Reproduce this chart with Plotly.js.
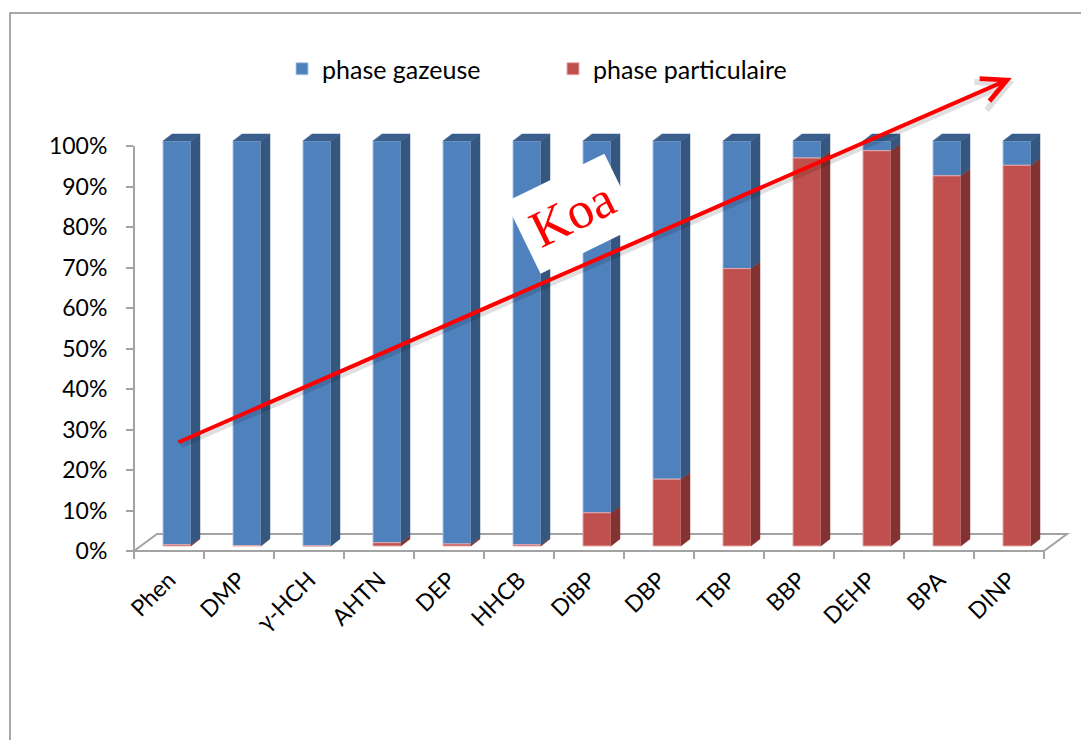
<!DOCTYPE html>
<html>
<head>
<meta charset="utf-8">
<script src="https://cdn.plot.ly/plotly-3.0.1.min.js"></script>
<style>html,body{margin:0;padding:0;background:#fff;}</style>
</head>
<body>
<div id="chart" style="width:1081px;height:740px;"></div>
<script>
// ---- data (percent) ----
const categories = ['Phen', 'DMP', 'γ-HCH', 'AHTN', 'DEP', 'HHCB', 'DiBP', 'DBP', 'TBP', 'BBP', 'DEHP', 'BPA', 'DINP'];
const particulaire = [0.3, 0.1, 0.0, 0.8, 0.5, 0.3, 8.2, 16.5, 68.5, 95.8, 97.6, 91.4, 94.0];
const gazeuse      = [99.7, 99.9, 100.0, 99.2, 99.5, 99.7, 91.8, 83.5, 31.5, 4.2, 2.4, 8.6, 6.0];
const seriesNames = ['phase gazeuse', 'phase particulaire'];
const yTickVals = [0, 10, 20, 30, 40, 50, 60, 70, 80, 90, 100];
const yTickText = ['0%', '10%', '20%', '30%', '40%', '50%', '60%', '70%', '80%', '90%', '100%'];
const annotationText = 'Koa';

// ---- geometry / style ----
const W = 1081, H = 740, L = 134, R = 11, T = 100, B = 189;
const plotW = W - L - R, plotH = H - T - B;
const pxPerX = 70, pxPerY = 4.05;
const xMin = -0.5, xMax = xMin + plotW / pxPerX;
const yMin = 0, yMax = yMin + plotH / pxPerY;
const barW = 0.4, barShift = 0.114;
const depthX = 9 / pxPerX, depthY = 7 / pxPerY, baseOff = 5 / pxPerY;
const fontFam = 'Lato, "Open Sans", sans-serif';
const grey = '#a3a3a3';
const col = {
  blue: '#4f81bd', blueSide: '#34567f', blueTop: '#3a5f8d',
  red: '#c0504d', redSide: '#823231'
};

const idx = categories.map((c, i) => i);
const fx = v => (v - xMin) / (xMax - xMin);   // data x -> paper
const fy = v => (v - yMin) / (yMax - yMin);   // data y -> paper
const pxX = p => (p - L) / plotW;              // pixel -> paper
const pxY = p => (H - B - p) / plotH;

const redBase = idx.map(() => baseOff);
const blueBase = idx.map(i => baseOff + particulaire[i]);

function sidePoly(bases, vals) {
  const xs = [], ys = [];
  idx.forEach(i => {
    if (vals[i] <= 0) return;
    const x1 = i + barShift + barW / 2;
    const y0 = bases[i], y1 = bases[i] + vals[i];
    xs.push(x1, x1 + depthX, x1 + depthX, x1, x1, null);
    ys.push(y0, y0 + depthY, y1 + depthY, y1, y0, null);
  });
  return {x: xs, y: ys};
}
function topPoly(bases, vals) {
  const xs = [], ys = [];
  idx.forEach(i => {
    if (vals[i] <= 0) return;
    const x0 = i + barShift - barW / 2, x1 = x0 + barW;
    const y1 = bases[i] + vals[i];
    xs.push(x0, x1, x1 + depthX, x0 + depthX, x0, null);
    ys.push(y1, y1, y1 + depthY, y1 + depthY, y1, null);
  });
  return {x: xs, y: ys};
}

const blueSide = sidePoly(blueBase, gazeuse);
const redSide = sidePoly(redBase, particulaire);
const blueTop = topPoly(blueBase, gazeuse);

const traces = [
  {
    type: 'bar', name: seriesNames[0], x: idx.map(i => i + barShift), y: gazeuse, base: blueBase,
    width: barW, marker: {color: col.blue, line: {color: 'rgba(170,200,235,0.9)', width: 1}},
    customdata: categories, textposition: 'none',
    hovertemplate: '%{customdata}: %{y:.1f}%<extra>' + seriesNames[0] + '</extra>'
  },
  {
    type: 'bar', name: seriesNames[1], x: idx.map(i => i + barShift), y: particulaire, base: redBase,
    width: barW, marker: {color: col.red, line: {color: 'rgba(235,170,170,0.9)', width: 1}},
    customdata: categories, textposition: 'none',
    hovertemplate: '%{customdata}: %{y:.1f}%<extra>' + seriesNames[1] + '</extra>'
  },
  {
    type: 'scatter', mode: 'lines', x: redSide.x, y: redSide.y, fill: 'toself',
    fillcolor: col.redSide, line: {color: col.redSide, width: 0.5}, showlegend: false, hoverinfo: 'skip'
  },
  {
    type: 'scatter', mode: 'lines', x: blueSide.x, y: blueSide.y, fill: 'toself',
    fillcolor: col.blueSide, line: {color: col.blueSide, width: 0.5}, showlegend: false, hoverinfo: 'skip'
  },
  {
    type: 'scatter', mode: 'lines', x: blueTop.x, y: blueTop.y, fill: 'toself',
    fillcolor: col.blueTop, line: {color: col.blueTop, width: 0.5}, showlegend: false, hoverinfo: 'skip'
  }
];

// floor (3D base) and axis line, in paper coords
const floorDx = 23 / plotW, floorDy = 17 / plotH;
const fl = fx(xMin), fr = fx(categories.length - 0.5), f0 = fy(0);
const floorPath = `M${fl},${f0} L${fr},${f0} L${fr + floorDx},${f0 + floorDy} L${fl + floorDx},${f0 + floorDy} Z`;

const shapes = [
  {type: 'rect', xref: 'paper', yref: 'paper', x0: pxX(10), y0: pxY(13), x1: pxX(1100), y1: pxY(760),
   line: {color: '#8c8c8c', width: 1.5}, layer: 'below'},
  {type: 'path', xref: 'paper', yref: 'paper', path: floorPath, line: {color: grey, width: 2}, layer: 'below'},
  {type: 'line', xref: 'paper', yref: 'paper', x0: fl, x1: fl, y0: fy(0), y1: fy(100),
   line: {color: grey, width: 2}, layer: 'below'}
];

const tail = {x: 0.114, y: 26.7}, head = {x: 12.04, y: 116.8};
const annotations = [
  {x: 5.77, y: 83.3, xref: 'x', yref: 'y', text: annotationText, showarrow: false, textangle: -26,
   font: {family: '"Liberation Serif", "Times New Roman", serif', size: 52, color: '#ff0000'},
   bgcolor: '#ffffff', borderpad: 11},
  {x: head.x + 0.04, y: head.y - 0.8, ax: tail.x + 0.04, ay: tail.y - 0.8, xref: 'x', yref: 'y', axref: 'x', ayref: 'y',
   text: '', showarrow: true, arrowhead: 5, arrowsize: 1.2, arrowwidth: 5, arrowcolor: 'rgba(0,0,0,0.12)'},
  {x: head.x, y: head.y, ax: tail.x, ay: tail.y, xref: 'x', yref: 'y', axref: 'x', ayref: 'y',
   text: '', showarrow: true, arrowhead: 5, arrowsize: 1.2, arrowwidth: 4, arrowcolor: '#ff0000'}
];

const layout = {
  width: W, height: H,
  margin: {l: L, r: R, t: T, b: B, pad: 0},
  paper_bgcolor: '#ffffff', plot_bgcolor: 'rgba(0,0,0,0)',
  barmode: 'overlay',
  font: {family: fontFam, size: 22, color: '#000000'},
  showlegend: true,
  legend: {orientation: 'h', x: pxX(282), xanchor: 'left', y: pxY(46), yanchor: 'top',
           font: {family: fontFam, size: 25, color: '#000'}, bgcolor: 'rgba(0,0,0,0)',
           traceorder: 'normal', entrywidth: 226, entrywidthmode: 'pixels'},
  xaxis: {
    range: [xMin, xMax], showgrid: false, zeroline: false, showline: false,
    tickmode: 'array', tickvals: idx, ticktext: categories, ticks: '', tickangle: -45,
    ticklabelstandoff: 10,
    tickfont: {family: fontFam, size: 23, color: '#000'},
    minor: {tickmode: 'array', tickvals: idx.concat([categories.length]).map(i => i - 0.5),
            ticks: 'outside', ticklen: 7, tickwidth: 1.5, tickcolor: grey, showgrid: false},
    fixedrange: true
  },
  yaxis: {
    range: [yMin, yMax], showgrid: false, zeroline: false, showline: false,
    tickmode: 'array', tickvals: yTickVals, ticktext: yTickText,
    ticks: 'outside', ticklen: 7, tickwidth: 1.5, tickcolor: grey,
    ticklabelstandoff: 14,
    tickfont: {family: fontFam, size: 23, color: '#000'},
    fixedrange: true
  },
  shapes: shapes,
  annotations: annotations
};

Plotly.newPlot('chart', traces, layout, {displayModeBar: false});
</script>
</body>
</html>
